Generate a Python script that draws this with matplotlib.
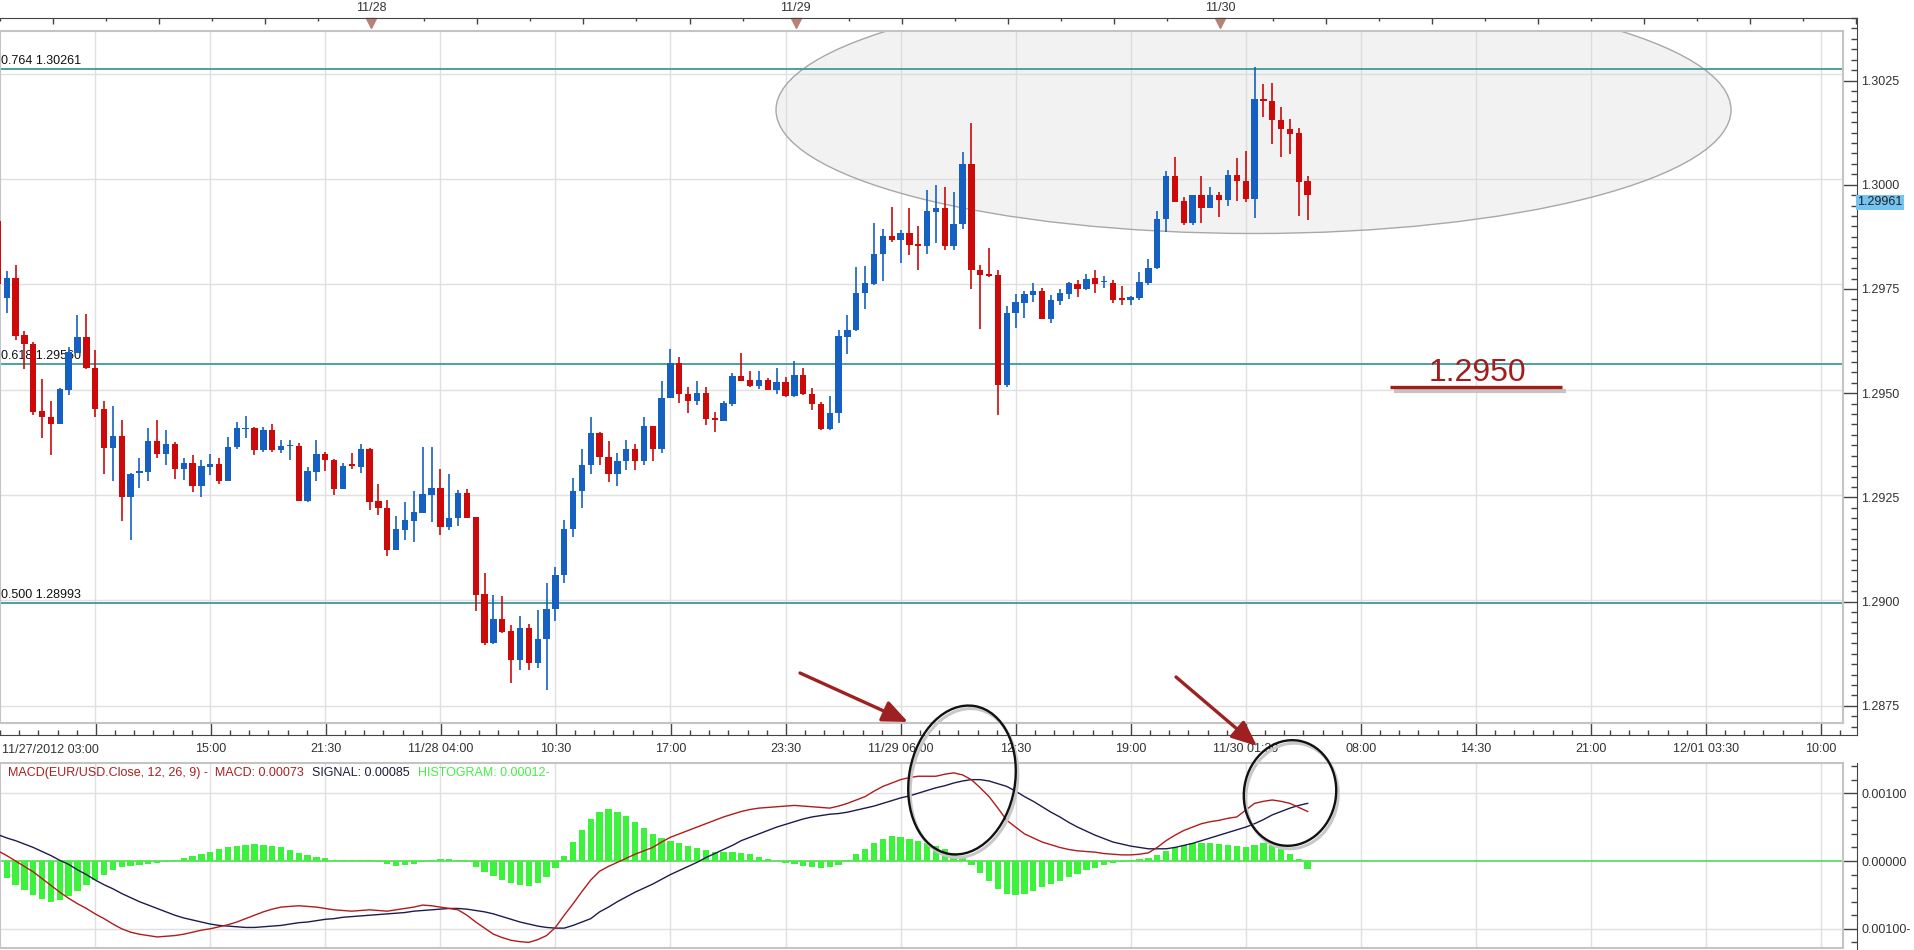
import numpy as np
import matplotlib
matplotlib.use('Agg')
import matplotlib.pyplot as plt
import matplotlib.transforms as mtransforms
from matplotlib.patches import Ellipse

plt.rcParams['font.family'] = ['Liberation Sans', 'DejaVu Sans']

# 30 minute EUR/USD candles, 11/27 03:00 onwards
opens = [1.29900, 1.29717, 1.29764, 1.29629, 1.29608, 1.29449, 1.29436, 1.29419, 1.29499, 1.29588,
         1.29626, 1.29551, 1.29453, 1.29362, 1.29390, 1.29244, 1.29302, 1.29304, 1.29379, 1.29347,
         1.29371, 1.29312, 1.29325, 1.29271, 1.29317, 1.29323, 1.29284, 1.29363, 1.29406, 1.29410,
         1.29357, 1.29404, 1.29356, 1.29365, 1.29367, 1.29235, 1.29305, 1.29347, 1.29334, 1.29265,
         1.29321, 1.29316, 1.29358, 1.29235, 1.29220, 1.29119, 1.29166, 1.29188, 1.29207, 1.29249,
         1.29267, 1.29174, 1.29196, 1.29255, 1.29198, 1.29014, 1.28899, 1.28955, 1.28926, 1.28859,
         1.28935, 1.28850, 1.28907, 1.28978, 1.29060, 1.29170, 1.29260, 1.29320, 1.29398, 1.29340,
         1.29300, 1.29330, 1.29360, 1.29330, 1.29414, 1.29360, 1.29481, 1.29562, 1.29489, 1.29472,
         1.29491, 1.29431, 1.29426, 1.29466, 1.29532, 1.29522, 1.29509, 1.29523, 1.29499, 1.29517,
         1.29485, 1.29535, 1.29489, 1.29465, 1.29407, 1.29445, 1.29625, 1.29641, 1.29730, 1.29750,
         1.29821, 1.29864, 1.29854, 1.29872, 1.29845, 1.29842, 1.29922, 1.29932, 1.29841, 1.29892,
         1.30035, 1.29785, 1.29774, 1.29771, 1.29510, 1.29683, 1.29706, 1.29725, 1.29733, 1.29667,
         1.29711, 1.29728, 1.29750, 1.29740, 1.29764, 1.29755, 1.29752, 1.29717, 1.29713, 1.29717,
         1.29753, 1.29788, 1.29906, 1.30006, 1.29947, 1.29895, 1.29961, 1.29932, 1.29963, 1.29950,
         1.30010, 1.29996, 1.29952, 1.30191, 1.30186, 1.30139, 1.30118, 1.30109, 1.29996]
highs = [1.29910, 1.29782, 1.29795, 1.29639, 1.29612, 1.29525, 1.29472, 1.29504, 1.29602, 1.29676,
         1.29680, 1.29594, 1.29473, 1.29461, 1.29428, 1.29302, 1.29337, 1.29408, 1.29428, 1.29404,
         1.29375, 1.29337, 1.29345, 1.29333, 1.29347, 1.29337, 1.29388, 1.29424, 1.29438, 1.29412,
         1.29412, 1.29419, 1.29381, 1.29380, 1.29373, 1.29316, 1.29381, 1.29352, 1.29336, 1.29326,
         1.29350, 1.29372, 1.29362, 1.29275, 1.29239, 1.29199, 1.29233, 1.29259, 1.29364, 1.29364,
         1.29312, 1.29299, 1.29261, 1.29263, 1.29198, 1.29065, 1.29012, 1.29010, 1.28941, 1.28962,
         1.28943, 1.28976, 1.29041, 1.29080, 1.29190, 1.29290, 1.29360, 1.29436, 1.29400, 1.29379,
         1.29350, 1.29380, 1.29370, 1.29436, 1.29414, 1.29521, 1.29597, 1.29577, 1.29505, 1.29521,
         1.29506, 1.29448, 1.29473, 1.29540, 1.29586, 1.29545, 1.29545, 1.29527, 1.29551, 1.29529,
         1.29569, 1.29551, 1.29503, 1.29470, 1.29484, 1.29641, 1.29676, 1.29791, 1.29793, 1.29896,
         1.29882, 1.29934, 1.29880, 1.29931, 1.29888, 1.29973, 1.29985, 1.29981, 1.29969, 1.30064,
         1.30133, 1.29795, 1.29835, 1.29783, 1.29699, 1.29728, 1.29733, 1.29752, 1.29741, 1.29724,
         1.29738, 1.29756, 1.29761, 1.29774, 1.29785, 1.29770, 1.29760, 1.29746, 1.29722, 1.29780,
         1.29811, 1.29925, 1.30020, 1.30053, 1.29958, 1.29961, 1.30008, 1.29980, 1.29969, 1.30022,
         1.30051, 1.30067, 1.30265, 1.30226, 1.30228, 1.30171, 1.30142, 1.30120, 1.30008]
lows = [1.29710, 1.29683, 1.29618, 1.29548, 1.29440, 1.29384, 1.29345, 1.29418, 1.29487, 1.29587,
        1.29548, 1.29434, 1.29300, 1.29282, 1.29187, 1.29142, 1.29266, 1.29282, 1.29337, 1.29321,
        1.29288, 1.29286, 1.29256, 1.29246, 1.29297, 1.29276, 1.29284, 1.29360, 1.29384, 1.29345,
        1.29353, 1.29353, 1.29350, 1.29334, 1.29235, 1.29233, 1.29283, 1.29307, 1.29249, 1.29264,
        1.29312, 1.29302, 1.29214, 1.29203, 1.29104, 1.29118, 1.29144, 1.29138, 1.29206, 1.29186,
        1.29154, 1.29166, 1.29176, 1.29194, 1.28975, 1.28893, 1.28897, 1.28921, 1.28804, 1.28835,
        1.28835, 1.28840, 1.28786, 1.28950, 1.29040, 1.29150, 1.29220, 1.29300, 1.29320, 1.29280,
        1.29270, 1.29310, 1.29310, 1.29320, 1.29330, 1.29350, 1.29480, 1.29468, 1.29444, 1.29464,
        1.29415, 1.29399, 1.29426, 1.29461, 1.29520, 1.29507, 1.29502, 1.29498, 1.29490, 1.29482,
        1.29483, 1.29487, 1.29452, 1.29405, 1.29403, 1.29421, 1.29584, 1.29640, 1.29692, 1.29749,
        1.29758, 1.29850, 1.29801, 1.29819, 1.29783, 1.29821, 1.29847, 1.29832, 1.29832, 1.29882,
        1.29740, 1.29644, 1.29767, 1.29439, 1.29506, 1.29646, 1.29669, 1.29708, 1.29667, 1.29658,
        1.29702, 1.29716, 1.29720, 1.29737, 1.29729, 1.29741, 1.29705, 1.29700, 1.29700, 1.29713,
        1.29748, 1.29787, 1.29874, 1.29945, 1.29890, 1.29890, 1.29895, 1.29932, 1.29910, 1.29937,
        1.29947, 1.29945, 1.29908, 1.30147, 1.30083, 1.30053, 1.30059, 1.29912, 1.29902]
closes = [1.29750, 1.29764, 1.29627, 1.29608, 1.29448, 1.29434, 1.29419, 1.29502, 1.29590, 1.29626,
          1.29551, 1.29453, 1.29362, 1.29390, 1.29244, 1.29300, 1.29306, 1.29379, 1.29347, 1.29371,
          1.29312, 1.29325, 1.29271, 1.29319, 1.29323, 1.29284, 1.29363, 1.29408, 1.29410, 1.29357,
          1.29404, 1.29357, 1.29366, 1.29368, 1.29235, 1.29306, 1.29347, 1.29334, 1.29265, 1.29318,
          1.29319, 1.29358, 1.29233, 1.29219, 1.29119, 1.29168, 1.29190, 1.29210, 1.29252, 1.29267,
          1.29174, 1.29196, 1.29255, 1.29194, 1.29012, 1.28899, 1.28955, 1.28925, 1.28859, 1.28935,
          1.28850, 1.28907, 1.28978, 1.29060, 1.29170, 1.29260, 1.29320, 1.29398, 1.29340, 1.29300,
          1.29330, 1.29360, 1.29330, 1.29414, 1.29360, 1.29481, 1.29562, 1.29489, 1.29472, 1.29491,
          1.29430, 1.29429, 1.29468, 1.29532, 1.29521, 1.29509, 1.29523, 1.29499, 1.29517, 1.29485,
          1.29535, 1.29489, 1.29465, 1.29407, 1.29445, 1.29627, 1.29642, 1.29730, 1.29752, 1.29823,
          1.29864, 1.29854, 1.29872, 1.29843, 1.29842, 1.29923, 1.29932, 1.29841, 1.29892, 1.30035,
          1.29785, 1.29773, 1.29770, 1.29512, 1.29683, 1.29707, 1.29726, 1.29733, 1.29667, 1.29712,
          1.29729, 1.29752, 1.29740, 1.29763, 1.29751, 1.29757, 1.29713, 1.29713, 1.29719, 1.29755,
          1.29788, 1.29906, 1.30006, 1.29945, 1.29895, 1.29961, 1.29932, 1.29963, 1.29950, 1.30010,
          1.29995, 1.29952, 1.30191, 1.30186, 1.30139, 1.30118, 1.30108, 1.29994, 1.29961]

# MACD(12, 26, 9) panel, values in units of 0.0001
macd_e4 = [1.5, 0.8, 0.0, -0.8, -1.6, -2.6, -3.6, -4.6, -5.5, -6.3,
           -7.0, -7.8, -8.5, -9.3, -10.0, -10.5, -10.8, -11.0, -11.2, -11.1,
           -11.0, -10.8, -10.5, -10.2, -10.0, -9.7, -9.4, -9.0, -8.5, -8.0,
           -7.5, -7.1, -6.8, -6.7, -6.6, -6.7, -6.8, -7.0, -7.2, -7.3,
           -7.4, -7.3, -7.2, -7.3, -7.4, -7.2, -7.0, -6.8, -6.5, -6.6,
           -6.8, -7.0, -7.2, -8.0, -9.0, -9.9, -10.8, -11.3, -11.7, -11.9,
           -12.0, -11.6, -11.0, -9.8, -8.0, -6.3, -4.5, -2.8, -1.5, -0.8,
           -0.2, 0.4, 1.0, 1.5, 2.0, 2.8, 3.5, 4.0, 4.5, 5.0,
           5.5, 6.0, 6.5, 6.9, 7.3, 7.6, 7.8, 7.9, 8.0, 8.1,
           8.2, 8.1, 8.0, 7.9, 7.8, 8.1, 8.5, 9.0, 9.5, 10.3,
           11.0, 11.5, 12.0, 12.3, 12.5, 12.5, 12.5, 12.8, 13.0, 12.7,
           12.0, 10.8, 9.5, 7.8, 6.0, 5.0, 4.0, 3.4, 2.8, 2.4,
           2.0, 1.7, 1.5, 1.4, 1.3, 1.1, 1.0, 0.9, 0.9, 1.0,
           1.2, 2.0, 3.0, 3.8, 4.5, 5.0, 5.5, 5.8, 6.0, 6.3,
           6.5, 7.5, 8.5, 8.8, 9.0, 8.8, 8.5, 7.9, 7.3]
signal_e4 = [3.9, 3.4, 3.0, 2.5, 2.0, 1.4, 0.8, 0.1, -0.5, -1.3,
             -2.0, -2.8, -3.5, -4.1, -4.8, -5.4, -6.0, -6.5, -7.0, -7.5,
             -8.0, -8.4, -8.7, -9.0, -9.3, -9.5, -9.6, -9.7, -9.8, -9.8,
             -9.7, -9.6, -9.5, -9.3, -9.1, -9.0, -8.8, -8.6, -8.5, -8.3,
             -8.2, -8.1, -8.0, -7.9, -7.8, -7.7, -7.6, -7.4, -7.3, -7.2,
             -7.1, -7.0, -7.0, -7.1, -7.3, -7.5, -7.8, -8.2, -8.6, -9.0,
             -9.3, -9.6, -9.8, -9.9, -9.9, -9.5, -9.0, -8.5, -7.5, -6.8,
             -6.0, -5.3, -4.6, -4.0, -3.4, -2.7, -2.0, -1.4, -0.8, -0.2,
             0.5, 1.1, 1.7, 2.3, 3.0, 3.5, 4.0, 4.5, 5.0, 5.4,
             5.8, 6.2, 6.5, 6.7, 6.9, 7.0, 7.2, 7.5, 7.8, 8.1,
             8.5, 8.9, 9.3, 9.6, 10.0, 10.4, 10.8, 11.1, 11.5, 11.8,
             12.0, 12.0, 11.8, 11.4, 11.0, 10.3, 9.5, 8.8, 8.0, 7.2,
             6.5, 5.7, 5.0, 4.4, 3.8, 3.3, 2.8, 2.5, 2.2, 2.0,
             1.8, 1.8, 1.8, 2.0, 2.3, 2.6, 3.0, 3.4, 3.8, 4.2,
             4.6, 5.0, 5.5, 6.1, 6.8, 7.3, 7.8, 8.2, 8.5]
hist_e4 = [-1.5, -2.5, -3.5, -4.3, -5.0, -5.6, -6.0, -5.8, -5.2, -4.4,
           -3.6, -2.8, -2.0, -1.4, -0.9, -0.7, -0.6, -0.5, -0.3, -0.1,
           0.2, 0.5, 0.8, 1.1, 1.4, 1.7, 2.0, 2.2, 2.4, 2.5,
           2.4, 2.2, 2.0, 1.6, 1.2, 0.9, 0.6, 0.4, 0.2, 0.1,
           0.1, 0.2, 0.1, -0.2, -0.5, -0.7, -0.6, -0.4, -0.1, 0.2,
           0.3, 0.3, 0.2, -0.2, -0.9, -1.6, -2.2, -2.8, -3.3, -3.6,
           -3.7, -3.3, -2.4, -1.0, 0.8, 2.8, 4.6, 6.2, 7.2, 7.6,
           7.3, 6.7, 5.8, 4.9, 4.0, 3.4, 3.0, 2.6, 2.2, 1.9,
           1.6, 1.4, 1.3, 1.3, 1.2, 1.0, 0.6, 0.3, 0.0, -0.3,
           -0.5, -0.7, -0.9, -1.0, -0.9, -0.6, 0.2, 1.0, 1.8, 2.6,
           3.3, 3.7, 3.6, 3.3, 2.9, 2.6, 2.2, 1.7, 1.1, 0.4,
           -0.6, -1.8, -3.0, -4.2, -4.8, -5.0, -4.8, -4.4, -3.9, -3.4,
           -2.9, -2.4, -1.9, -1.4, -1.0, -0.6, -0.3, -0.1, 0.1, 0.3,
           0.5, 0.9, 1.5, 2.1, 2.4, 2.6, 2.7, 2.6, 2.5, 2.4,
           2.2, 2.0, 2.4, 2.6, 2.4, 1.8, 1.0, 0.3, -1.2]

time_labels = ['11/27/2012 03:00', '15:00', '21:30', '11/28 04:00', '10:30', '17:00', '23:30',
               '11/29 06:00', '12:30', '19:00', '11/30 01:30', '08:00', '14:30', '21:00',
               '12/01 03:30', '10:00']
day_labels = ['11/28', '11/29', '11/30']
day_bars = [42, 90, 138]
price_ticks = [1.2875, 1.2900, 1.2925, 1.2950, 1.2975, 1.3000, 1.3025]
fib_levels = [1.30261, 1.29560, 1.28993]
fib_names = ['0.764 1.30261', '0.618 1.29560', '0.500 1.28993']
last_price = 1.29961
macd_ticks = [-0.001, 0.0, 0.001]
macd_tick_labels = ['0.00100-', '0.00000', '0.00100']

W, H = 1914, 950
RED = '#cc0a0a'
BLUE = '#1560c0'
TEAL = '#3a9b9b'
GRID = '#e0e0e0'
AX = '#444444'


def rect(x0, y0, x1, y1):
    return [x0 / W, 1 - y1 / H, (x1 - x0) / W, (y1 - y0) / H]


def ix(px):
    return (px + 2.15) / 8.85


def pr(py):
    return 1.3 - (py - 179) / 42120.0


def mv(py):
    return (861 - py) / 67800.0


opens = np.array(opens)
highs = np.array(highs)
lows = np.array(lows)
closes = np.array(closes)
idx = np.arange(len(opens))
grid_idx = 11 + 13 * np.arange(len(time_labels))
minor_idx = np.arange(11 - 13 * 5 / 6, 210, 13 / 6)

fig = plt.figure(figsize=(W / 100, H / 100), dpi=100)
fig.patch.set_facecolor('white')

# outer frame of price panel: bottom time axis and right price axis
axf = fig.add_axes(rect(0, 18, 1857, 735))
axf.set_xlim(ix(0), ix(1857))
axf.set_ylim(pr(735), pr(18))
for s in ['left', 'top']:
    axf.spines[s].set_visible(False)
for s in ['bottom', 'right']:
    axf.spines[s].set_color(AX)
axf.set_xticks(grid_idx)
axf.set_xticklabels([''] + time_labels[1:])
axf.set_xticks(minor_idx, minor=True)
axf.tick_params(axis='x', which='major', direction='in', length=9, width=1, color=AX,
                labelsize=9, labelcolor='#333333', pad=6)
axf.tick_params(axis='x', which='minor', direction='in', length=3.5, width=1, color=AX)
axf.yaxis.tick_right()
axf.set_yticks(price_ticks)
axf.set_yticklabels(['%.4f' % p for p in price_ticks])
axf.set_yticks(np.arange(1.28700, 1.30400, 0.00025), minor=True)
axf.tick_params(axis='y', which='major', direction='in', length=10, width=1, color=AX,
                labelsize=9, labelcolor='#333333', pad=3)
axf.tick_params(axis='y', which='minor', direction='in', length=4.3, width=1, color=AX)
tb = mtransforms.blended_transform_factory(axf.transData, axf.transAxes)
axf.text(ix(1), -0.021, time_labels[0], transform=tb, ha='left', va='center',
         fontsize=9, color='#333333')
tr = mtransforms.blended_transform_factory(axf.transAxes, axf.transData)
axf.text(1.0, last_price, '1.29961', transform=tr, ha='left', va='center_baseline',
         fontsize=9, color='#222222',
         bbox=dict(boxstyle='square,pad=0.12', fc='#74c3f0', ec='none'))

# top date strip
axt = fig.add_axes(rect(0, 18, 1857, 31))
axt.set_xlim(ix(0), ix(1857))
axt.set_ylim(0, 1)
axt.patch.set_visible(False)
for s in ['left', 'right', 'bottom']:
    axt.spines[s].set_visible(False)
axt.spines['top'].set_color(AX)
axt.xaxis.tick_top()
axt.set_xticks(np.arange(6, 211, 12))
axt.set_xticks(np.arange(0, 211, 6), minor=True)
axt.set_xticklabels([])
axt.set_yticks([])
axt.tick_params(axis='x', which='major', direction='in', length=4, width=1, color=AX)
axt.tick_params(axis='x', which='minor', direction='in', length=2.5, width=1, color=AX)
axt.plot(day_bars, [0.62] * len(day_bars), ls='none', marker='v', ms=7, color='#b98274',
         clip_on=False)
for d, lab in zip(day_bars, day_labels):
    axt.text(d, 1.75, lab, ha='center', va='center', fontsize=9, color='#333333')

# price panel
ax = fig.add_axes(rect(0, 31, 1843, 723))
ax.set_xlim(ix(0), ix(1843))
ax.set_ylim(pr(723), pr(31))
ax.set_xticks(grid_idx)
ax.set_yticks(price_ticks)
ax.tick_params(length=0, labelbottom=False, labelleft=False)
ax.grid(True, color=GRID, lw=1)
ax.set_axisbelow(True)
for s in ax.spines.values():
    s.set_color('#c4c4c4')
    s.set_linewidth(1.5)

ax.add_patch(Ellipse((ix(1253.5), pr(110)), 955 / 8.85, 247 / 42120.0,
                     fc='#d8d8d8', alpha=0.33, ec='none', zorder=1.5))
ax.add_patch(Ellipse((ix(1253.5), pr(110)), 955 / 8.85, 247 / 42120.0,
                     fill=False, ec='#a8a8a8', lw=1, zorder=1.6))

for lev, name in zip(fib_levels, fib_names):
    ax.axhline(lev, color=TEAL, lw=1.3, zorder=2)
    ax.annotate(name, xy=(ix(1), lev), xytext=(0, 1.5), textcoords='offset points',
                ha='left', va='bottom', fontsize=9, color='#111111', zorder=2.5)

colors = np.where(closes >= opens, BLUE, RED)
ax.vlines(idx, lows, highs, colors=colors, lw=1.2, zorder=3)
body_h = np.maximum(np.abs(closes - opens), 0.00004)
ax.bar(idx, body_h, bottom=np.minimum(opens, closes), width=0.72, color=colors,
       linewidth=0, zorder=4)

# MACD panel
axmf = fig.add_axes(rect(0, 763, 1857, 949))
axmf.set_xlim(ix(0), ix(1857))
axmf.set_ylim(mv(949), mv(763))
for s in ['left', 'top', 'bottom']:
    axmf.spines[s].set_visible(False)
axmf.spines['right'].set_color(AX)
axmf.set_xticks([])
axmf.yaxis.tick_right()
axmf.set_yticks(macd_ticks)
axmf.set_yticklabels(macd_tick_labels)
axmf.set_yticks(np.arange(-0.0012, 0.00141, 0.0002), minor=True)
axmf.tick_params(axis='y', which='major', direction='in', length=10, width=1, color=AX,
                 labelsize=9, labelcolor='#333333', pad=3)
axmf.tick_params(axis='y', which='minor', direction='in', length=4.3, width=1, color=AX)

axm = fig.add_axes(rect(0, 763, 1843, 948))
axm.set_xlim(ix(0), ix(1843))
axm.set_ylim(mv(948), mv(763))
axm.set_xticks(grid_idx)
axm.set_yticks([-0.001, 0.001])
axm.tick_params(length=0, labelbottom=False, labelleft=False)
axm.grid(True, color=GRID, lw=1)
axm.set_axisbelow(True)
for s in axm.spines.values():
    s.set_color('#c4c4c4')
    s.set_linewidth(1.5)
axm.axhline(0, color='#55d855', lw=1.2, zorder=1.5)
axm.bar(idx, np.array(hist_e4) * 1e-4, width=0.72, color='#3df23d', linewidth=0, zorder=2)
axm.plot(idx, np.array(signal_e4) * 1e-4, color='#1c1c4e', lw=1.0, zorder=3)
axm.plot(idx, np.array(macd_e4) * 1e-4, color='#b01c1c', lw=1.0, zorder=3.1)

t1 = axm.text(8 / 1843, 1 - 10 / 185, 'MACD(EUR/USD.Close, 12, 26, 9) -  MACD: 0.00073',
              transform=axm.transAxes, ha='left', va='center', fontsize=9, color='#a82020')
t2 = axm.annotate('SIGNAL: 0.00085', xy=(1, 0), xycoords=t1, xytext=(6, 0),
                  textcoords='offset points', ha='left', va='bottom', fontsize=9,
                  color='#1e1e40')
axm.annotate('HISTOGRAM: 0.00012-', xy=(1, 0), xycoords=t2, xytext=(6, 0),
             textcoords='offset points', ha='left', va='bottom', fontsize=9, color='#44ee44')

# hand drawn annotations
ov = fig.add_axes([0, 0, 1, 1])
ov.set_xlim(0, W)
ov.set_ylim(H, 0)
ov.axis('off')
ov.set_zorder(10)
arrow = dict(arrowstyle='-|>,head_length=0.7,head_width=0.3', color='#9e2020', lw=2.4,
             shrinkA=0, shrinkB=0, mutation_scale=22)
ov.annotate('', xy=(908, 722), xytext=(800, 673), arrowprops=arrow)
ov.annotate('', xy=(1257, 746), xytext=(1176, 677), arrowprops=arrow)
for (cx, cy), w, h, a in [((962, 780), 106, 150, 10), ((1290, 793), 92, 106, 10)]:
    ov.add_patch(Ellipse((cx + 2, cy + 3), w, h, angle=a, fill=False, ec='#c8c8c8', lw=2.2))
    ov.add_patch(Ellipse((cx, cy), w, h, angle=a, fill=False, ec='#111111', lw=1.7))
ov.plot([1394, 1566], [391, 391], color='#c4c4c4', lw=3, solid_capstyle='butt')
ov.plot([1390, 1562], [387, 387], color='#a61c1c', lw=2.4, solid_capstyle='butt')
ov.text(1477, 381, '1.2950', ha='center', va='baseline', fontsize=23, color='#a61c1c')

fig.savefig('out.png', dpi=100)
